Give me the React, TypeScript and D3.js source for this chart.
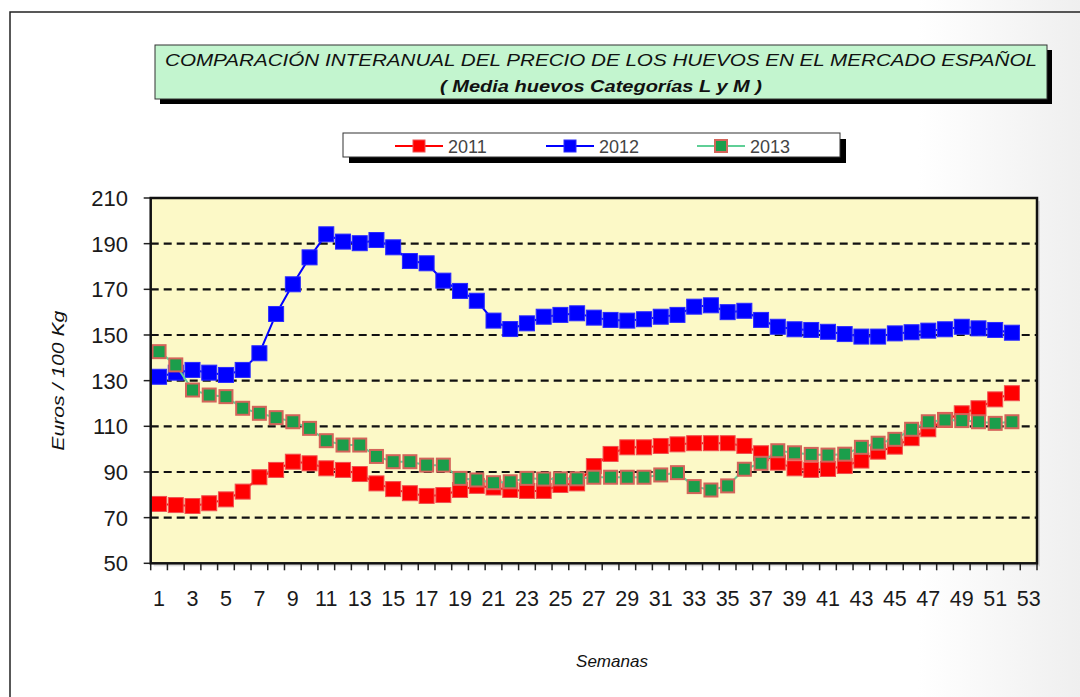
import * as d3 from 'd3';

const W = 1080;
const H = 697;

const weeks = d3.range(1, 54);
const tickLabels = d3.range(1, 54, 2);
const yTicks = [50, 70, 90, 110, 130, 150, 170, 190, 210];
const gridValues = [70, 90, 110, 130, 150, 170, 190];

const y2011 = [
  76, 75.5, 75.1, 76.3, 78, 81.4, 87.7, 90.9, 94.5, 93.8,
  91.6, 90.9, 89.1, 85, 82.5, 80.7, 79.5, 79.9, 82.1, 83.9,
  83.2, 82.1, 81.7, 81.7, 84.3, 85, 92.6, 97.9, 100.8, 100.8,
  101.4, 102.1, 102.6, 102.6, 102.6, 101.4, 98.2, 94.1, 91.6, 90.9,
  91.3, 92.6, 95, 98.9, 101.1, 104.8, 108.7, 112.8, 115.7, 117.9,
  121.8, 124.5,
];
const y2012 = [
  131.7, 133.5, 134.7, 133.5, 132.5, 134.7, 142, 159.2, 172.2, 184,
  194.1, 190.9, 190.2, 191.6, 188.4, 182.4, 181.4, 173.8, 169.3, 165,
  156.3, 152.6, 155.1, 158, 158.8, 159.5, 157.6, 156.6, 156.3, 156.9,
  158, 158.8, 162.4, 163, 160, 160.6, 156.6, 153.6, 152.5, 152.2,
  151.4, 150.4, 149.3, 149.3, 150.7, 151.2, 151.9, 152.5, 153.6, 152.9,
  152.2, 151,
];
const y2013 = [
  142.7, 136.9, 125.9, 123.7, 123, 117.9, 115.7, 113.8, 112, 109.1,
  103.7, 101.8, 101.8, 96.8, 94.5, 94.5, 93, 93, 87.2, 86.5,
  85.3, 85.7, 87.2, 86.9, 87, 87, 87.7, 87.7, 87.7, 87.7,
  88.7, 89.7, 83.6, 82.1, 83.9, 91.2, 93.8, 99.3, 98.4, 97.7,
  97.4, 97.8, 100.8, 102.6, 104.3, 108.7, 112, 112.8, 112.5, 112,
  111.3, 112,
];

const series = [
  { name: '2011', values: y2011, line: '#ff0000', fill: '#ff0000', stroke: '#f05050', size: 15, sw: 1 },
  { name: '2012', values: y2012, line: '#0000ff', fill: '#0000ff', stroke: '#2a2aff', size: 15, sw: 1 },
  { name: '2013', values: y2013, line: '#5fcf96', fill: '#1b9e4b', stroke: '#d4645a', size: 13, sw: 2 },
];

const font = '"Liberation Sans", Arial, sans-serif';

export default function App() {
  const plot = { left: 150.7, right: 1037, top: 198, bottom: 563.3 };

  const x = d3.scaleBand<number>().domain(weeks).range([plot.left, plot.right]);
  const cx = (w: number) => (x(w) ?? 0) + x.bandwidth() / 2;
  const y = d3.scaleLinear().domain([50, 210]).range([plot.bottom, plot.top]);

  const line = d3.line<number>()
    .x((_, i) => cx(i + 1))
    .y(d => y(d));

  const legendItems = [
    { s: series[0], x0: 395 },
    { s: series[1], x0: 546 },
    { s: series[2], x0: 697 },
  ];

  return (
    <div style={{ position: 'absolute', left: 0, top: 0 }}>
      <svg width={W} height={H} style={{ display: 'block', fontFamily: font }}>
        <defs>
          <linearGradient id="bg" x1="0" x2="1" y1="0" y2="0">
            <stop offset="0.85" stopColor="#ffffff" />
            <stop offset="1" stopColor="#efefef" />
          </linearGradient>
        </defs>
        <rect x={0} y={0} width={W} height={H} fill="url(#bg)" />
        <rect x={10} y={12} width={W + 20} height={H + 20} fill="none" stroke="#222" strokeWidth={1.5} />

        {/* title box */}
        <rect x={160} y={50} width={892} height={54} fill="#000" />
        <rect x={155} y={45} width={892} height={54} fill="#c3f5cf" stroke="#333" strokeWidth={1} />
        <text x={601} y={66} textAnchor="middle" fontSize={17} fontStyle="italic" fill="#111"
          textLength={872} lengthAdjust="spacingAndGlyphs">
          COMPARACIÓN INTERANUAL DEL PRECIO DE LOS HUEVOS EN EL MERCADO ESPAÑOL
        </text>
        <text x={601} y={92} textAnchor="middle" fontSize={17} fontStyle="italic" fontWeight="bold" fill="#111"
          textLength={322} lengthAdjust="spacingAndGlyphs">
          ( Media huevos Categorías L y M )
        </text>

        {/* legend */}
        <rect x={349} y={139} width={497} height={24} fill="#000" />
        <rect x={343} y={133} width={497} height={24} fill="#fff" stroke="#333" strokeWidth={1} />
        {legendItems.map(({ s, x0 }) => (
          <g key={s.name}>
            <line x1={x0} x2={x0 + 48} y1={146} y2={146} stroke={s.line} strokeWidth={2} />
            <rect x={x0 + 24 - 6} y={146 - 6} width={12} height={12} fill={s.fill}
              stroke={s.stroke} strokeWidth={s.sw} />
            <text x={x0 + 53} y={153} fontSize={18} fill="#444">{s.name}</text>
          </g>
        ))}

        {/* plot area */}
        <rect x={plot.left + 3} y={plot.top + 3} width={plot.right - plot.left} height={plot.bottom - plot.top}
          fill="#bbb" opacity={0.5} />
        <rect x={plot.left} y={plot.top} width={plot.right - plot.left} height={plot.bottom - plot.top}
          fill="#fcf9c7" />

        {gridValues.map(v => (
          <line key={v} x1={plot.left} x2={plot.right} y1={y(v)} y2={y(v)}
            stroke="#111" strokeWidth={2.2} strokeDasharray="8,5" />
        ))}

        {/* y axis */}
        {yTicks.map(v => (
          <g key={v}>
            <line x1={plot.left - 7} x2={plot.left} y1={y(v)} y2={y(v)} stroke="#222" strokeWidth={1.5} />
            <text x={128} y={y(v) + 8} textAnchor="end" fontSize={22} fill="#1a1a1a">{v}</text>
          </g>
        ))}

        {/* x axis */}
        {weeks.map(w => (
          <line key={w} x1={x(w)} x2={x(w)} y1={plot.bottom} y2={plot.bottom + 7} stroke="#222" strokeWidth={1.5} />
        ))}
        <line x1={plot.right} x2={plot.right} y1={plot.bottom} y2={plot.bottom + 7} stroke="#222" strokeWidth={1.5} />
        {tickLabels.map(w => (
          <text key={w} x={cx(w)} y={606} textAnchor="middle" fontSize={21.5} fill="#1a1a1a">{w}</text>
        ))}

        {/* series */}
        {series.map(s => (
          <g key={s.name}>
            <path d={line(s.values) ?? ''} fill="none" stroke={s.line} strokeWidth={2} />
            {s.values.map((v, i) => (
              <rect key={i} x={cx(i + 1) - s.size / 2} y={y(v) - s.size / 2}
                width={s.size} height={s.size} fill={s.fill} stroke={s.stroke} strokeWidth={s.sw} />
            ))}
          </g>
        ))}

        <rect x={plot.left} y={plot.top} width={plot.right - plot.left} height={plot.bottom - plot.top}
          fill="none" stroke="#111" strokeWidth={2.5} />

        {/* axis titles */}
        <text transform={`translate(64,${(plot.top + plot.bottom) / 2}) rotate(-90)`} textAnchor="middle"
          fontSize={17} fontStyle="italic" fill="#111" textLength={140} lengthAdjust="spacingAndGlyphs">Euros / 100 Kg</text>
        <text x={612} y={667} textAnchor="middle" fontSize={17} fontStyle="italic" fill="#111">Semanas</text>
      </svg>
    </div>
  );
}
